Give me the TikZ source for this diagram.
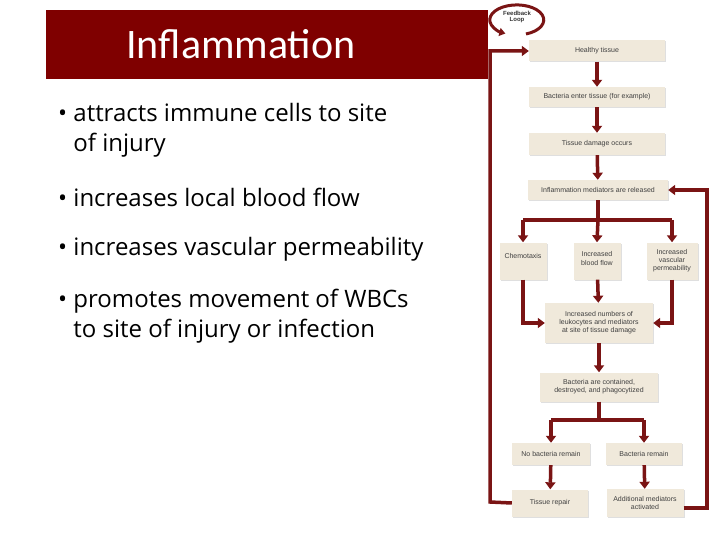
\documentclass[tikz,border=0pt]{standalone}
\usepackage{fontspec}
\setmainfont{Carlito}
\newfontfamily\boxfont{Liberation Sans}
\newfontfamily\bulfont{Open Sans}
\usetikzlibrary{arrows.meta,shadows}
\definecolor{banner}{HTML}{7F0000}
\definecolor{arr}{HTML}{7A1414}
\definecolor{beige}{HTML}{F0E9DB}
\begin{document}
\begin{tikzpicture}[x=1pt,y=-1pt,
  fbox/.style={fill=beige,draw=none,drop shadow={shadow xshift=1pt,shadow yshift=-1pt,opacity=0.25},align=center,font=\boxfont\fontsize{7}{8}\selectfont,text=black!75,inner sep=0pt},
  conn/.style={draw=arr,line width=3.5pt},
  ar/.style={conn,-{Triangle[length=7pt,width=10pt]}},
  bul/.style={anchor=west,align=left,font=\bulfont\fontsize{24}{30}\selectfont,inner sep=0pt}]
\useasboundingbox[fill=white] (0,0) rectangle (720,540);
\fill[banner] (46,10) rectangle (488,79);
\node[text=white,font=\fontsize{42}{48}\selectfont] (title) at (241,44) {Inflammation};
\node[bul] (b1) at (58,130) {\textbullet\ attracts immune cells to site\\\phantom{\textbullet\ }of injury};
\node[bul] (b2) at (58,197) {\textbullet\ increases local blood flow};
\node[bul] (b3) at (58,249) {\textbullet\ increases vascular permeability};
\node[bul] (b4) at (58,316) {\textbullet\ promotes movement of WBCs\\\phantom{\textbullet\ }to site of injury or infection};
% boxes
\node[fbox,minimum width=136,minimum height=21] (h) at (597,51) {Healthy tissue};
\node[fbox,minimum width=136,minimum height=20] (be) at (597,97) {Bacteria enter tissue (for example)};
\node[fbox,minimum width=136,minimum height=22] (td) at (597,144) {Tissue damage occurs};
\node[fbox,minimum width=140,minimum height=20] (im) at (598,190) {Inflammation mediators are released};
\node[fbox,minimum width=47,minimum height=37] (ch) at (523,261) {\raisebox{10pt}{Chemotaxis}};
\node[fbox,minimum width=47,minimum height=37] (bf) at (597,261) {\raisebox{5pt}{\shortstack{Increased\\blood flow}}};
\node[fbox,minimum width=51,minimum height=37] (vp) at (672,261) {Increased\\vascular\\permeability};
\node[fbox,minimum width=108,minimum height=40] (in) at (599,323) {Increased numbers of\\leukocytes and mediators\\at site of tissue damage};
\node[fbox,minimum width=118,minimum height=29] (bc) at (599,387) {Bacteria are contained,\\destroyed, and phagocytized};
\node[fbox,minimum width=78,minimum height=22] (nb) at (551,454) {No bacteria remain};
\node[fbox,minimum width=76,minimum height=22] (br) at (644,454) {Bacteria remain};
\node[fbox,minimum width=76,minimum height=27] (tr) at (550,503) {Tissue repair};
\node[fbox,minimum width=77,minimum height=28] (ad) at (645,503) {Additional mediators\\activated};
% arrows
\draw[ar] (h) -- (be);
\draw[ar] (be) -- (td);
\draw[ar] (td) -- (im);
\coordinate (j1) at (im.south |- 0,220);
\draw[conn] (im.south) -- (j1);
\draw[conn] (ch.north |- j1) -- (vp.north |- j1);
\draw[ar] (ch.north |- j1) -- (ch.north);
\draw[ar] (j1) -- (bf.north);
\draw[ar] (vp.north |- j1) -- (vp.north);
\draw[ar] (bf) -- (in);
\draw[ar] (ch.south) |- (in.west);
\draw[ar] (vp.south) |- (in.east);
\draw[ar] (in) -- (bc);
\coordinate (j2) at (bc.south |- 0,420);
\draw[conn] (bc.south) -- (j2);
\draw[conn] (nb.north |- j2) -- (br.north |- j2);
\draw[ar] (nb.north |- j2) -- (nb.north);
\draw[ar] (br.north |- j2) -- (br.north);
\draw[ar] (nb) -- (tr);
\draw[ar] (br) -- (ad);
\coordinate (lc) at (490,502);
\coordinate (rc) at (707,508);
\draw[ar] (tr.west) -- (lc) |- (h.west);
\draw[ar] (ad.east |- rc) -- (rc) |- (im.east);
% feedback loop
\draw[draw=arr,line width=3pt,-{Triangle[length=6pt,width=8pt]}] (526,34) arc[start angle=70,end angle=-245,x radius=27,y radius=15];
\node[font=\boxfont\bfseries\fontsize{6}{6.5}\selectfont,align=center,text=black!80] (fl) at (517,17) {Feedback\\Loop};
\end{tikzpicture}
\end{document}
